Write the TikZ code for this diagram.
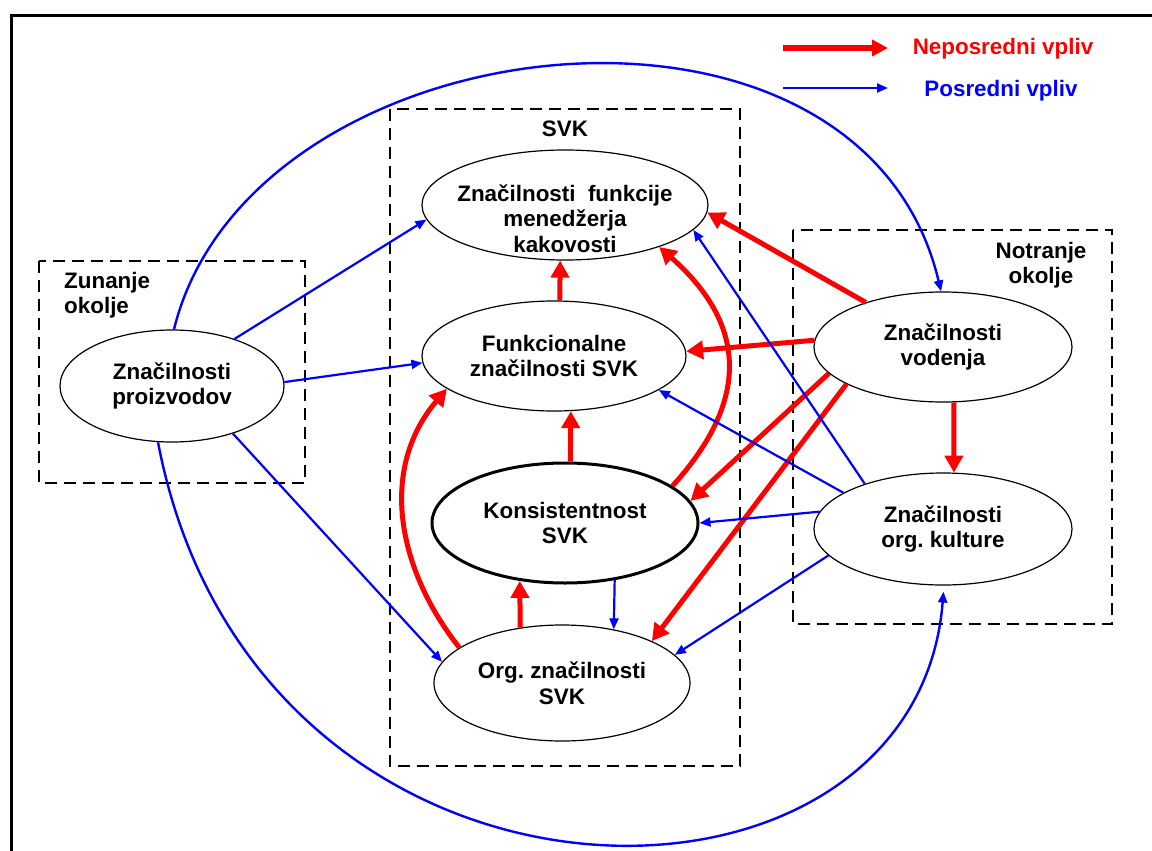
\documentclass[tikz,border=0pt]{standalone}
\usepackage{fontspec}
\setmainfont{Liberation Sans}
\usetikzlibrary{arrows.meta,shapes.geometric}
\definecolor{rd}{RGB}{255,0,0}
\definecolor{bl}{RGB}{0,0,255}
\begin{document}
\begin{tikzpicture}[x=1pt,y=-1pt,
  ell/.style={draw, ellipse, line width=1.2pt, inner sep=0pt, align=center,
    font=\fontsize{22.4}{25.5}\selectfont\bfseries},
  txt/.style={align=center, inner sep=0pt, font=\fontsize{22.4}{25.5}\selectfont\bfseries},
  dbox/.style={draw, line width=2.8pt, dash pattern=on 12pt off 7pt},
  rarr/.style={draw=rd, line width=5pt, -{Triangle[length=17pt,width=18pt]}},
  barr/.style={draw=bl, line width=2.2pt, -{Triangle[length=11pt,width=9pt]}}
]
\useasboundingbox (0,0) rectangle (1152,851);
% frame
\draw[line width=3pt] (11,851) -- (11,16) -- (1152,16);
% dashed boxes
\draw[dbox] (390,109) rectangle (740,766);
\draw[dbox] (39,261) rectangle (305,483);
\draw[dbox] (793,230) rectangle (1112,624);
% ellipses
\node[ell, minimum width=286pt, minimum height=110pt] (T) at (565,205) {};
\node[txt] (Tt) at (565,218.5) {Značilnosti\ \ funkcije\\menedžerja\\kakovosti};
\node[ell, minimum width=264pt, minimum height=110pt] (F) at (554,356) {Funkcionalne\\značilnosti SVK};
\node[ell, line width=3pt, minimum width=266pt, minimum height=120pt] (K) at (565,523) {Konsistentnost\\SVK};
\node[ell, minimum width=256pt, minimum height=116pt] (O) at (562,683) {Org.\ značilnosti\\SVK};
\node[ell, minimum width=224pt, minimum height=112pt] (P) at (172,386) {Značilnosti\\proizvodov};
\node[ell, minimum width=258pt, minimum height=110pt] (V) at (943,347) {Značilnosti\\vodenja};
\node[ell, minimum width=258pt, minimum height=112pt] (C) at (943,529) {Značilnosti\\org.\ kulture};
% labels
\node[txt, anchor=base] (svk) at (565,136) {SVK};
\node[txt, align=left, anchor=west] (zun) at (64,295) {Zunanje\\okolje};
\node[txt] (notr) at (1041,265) {Notranje\\okolje};
\node[txt, text=rd, anchor=base] (lgr) at (1003,55) {Neposredni vpliv};
\node[txt, text=bl, anchor=base] (lgb) at (1001,96) {Posredni vpliv};
% legend arrows
\coordinate (lr1) at (783,48); \coordinate (lr2) at (888,48);
\coordinate (lb1) at (783,88); \coordinate (lb2) at (888,88);
\draw[draw=rd, line width=5.5pt, -{Triangle[length=16pt,width=16pt]}] (lr1) -- (lr2);
\draw[barr] (lb1) -- (lb2);
% red connectors
\draw[rarr] (F.84) -- (T.-95.2);
\draw[rarr] (K.85) -- (F.-73.7);
\draw[rarr] (O.127) -- (K.-128.5);
\draw[rarr] (O.161) .. controls (398,570) and (378,470) .. (F.-163);
\draw[rarr] (K.19.8) .. controls (755,395) and (742,320) .. (T.-24.7);
\draw[rarr] (V.177.7) -- (F.2);
\draw[rarr] (V.150) -- (T.-3);
\draw[rarr] (V.-167.7) -- (K.10.5);
\draw[rarr] (V.-159) -- (O.25.5);
\draw[rarr] (V.-79.7) -- (C.79.8);
% blue connectors
\draw[barr] (P.37.5) -- (T.-174);
\draw[barr] (P.2) -- (F.-177.4);
\draw[barr] (P.-38) -- (O.170.5);
\draw[barr, line width=2.4pt] (P.88) .. controls (250,20) and (860,-50) .. (V.92);
\draw[barr, line width=2.4pt, shorten >=6pt] (P.-104.5) .. controls (255,950) and (915,950) .. (C.-89);
\draw[barr] (C.150.5) -- (T.-11.4);
\draw[barr] (C.160.6) -- (F.-18);
\draw[barr] (C.172.8) -- (K.0);
\draw[barr] (C.-167) -- (O.14.4);
\draw[barr] (K.-49.4) -- (O.46);
\end{tikzpicture}
\end{document}
